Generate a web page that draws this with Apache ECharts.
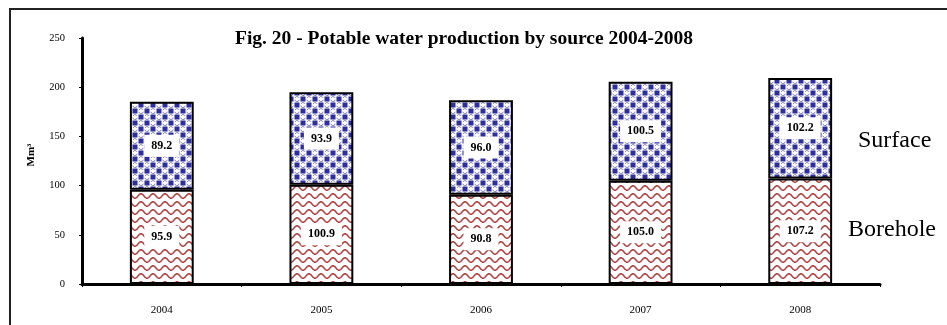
<!DOCTYPE html>
<html>
<head>
<meta charset="utf-8">
<script src="https://cdn.jsdelivr.net/npm/echarts@6/dist/echarts.min.js"></script>
<style>
  html, body { margin: 0; padding: 0; background: #fff; }
  #chart { width: 947px; height: 325px; }
</style>
</head>
<body>
<div id="chart"></div>
<script>
// Potable water production by source, million cubic metres
const years = ['2004', '2005', '2006', '2007', '2008'];
const borehole = [95.9, 100.9, 90.8, 105.0, 107.2];
const surface = [89.2, 93.9, 96.0, 100.5, 102.2];
const yTicks = { min: 0, max: 250, interval: 50 };

// Wavy red hatch for the borehole segments
function wavePattern() {
  const c = document.createElement('canvas');
  c.width = 12; c.height = 8;
  const g = c.getContext('2d');
  g.fillStyle = '#ffffff';
  g.fillRect(0, 0, 12, 8);
  g.strokeStyle = '#b04646';
  g.lineWidth = 1.6;
  g.beginPath();
  for (let x = -1; x <= 13; x += 0.5) {
    const y = 4 + 2.2 * Math.sin((x / 12) * Math.PI * 2);
    if (x === -1) g.moveTo(x, y); else g.lineTo(x, y);
  }
  g.stroke();
  return c;
}

// Blue check-and-ring pattern for the surface segments
function checkPattern() {
  const s = 12, h = s / 2;
  const c = document.createElement('canvas');
  c.width = s; c.height = s;
  const g = c.getContext('2d');
  g.fillStyle = '#ffffff';
  g.fillRect(0, 0, s, s);
  g.fillStyle = '#2f2f9c';
  g.fillRect(0.5, 0.5, 5, 5);
  g.fillRect(h + 0.5, h + 0.5, 5, 5);
  g.strokeStyle = '#7c7cc8';
  g.lineWidth = 1;
  [[h + 3, 3], [3, h + 3]].forEach(([cx, cy]) => {
    g.beginPath(); g.arc(cx, cy + 0.4, 2.2, 0.05 * Math.PI, 0.95 * Math.PI); g.stroke();
    g.beginPath(); g.arc(cx, cy - 0.2, 2.2, 1.15 * Math.PI, 1.85 * Math.PI); g.stroke();
  });
  return c;
}

const serif = '"Liberation Serif", "Times New Roman", serif';

const valueLabel = {
  show: true,
  position: 'inside',
  formatter: p => p.value.toFixed(1),
  fontFamily: serif,
  fontWeight: 'bold',
  fontSize: 12,
  color: '#000',
  backgroundColor: '#fff',
  padding: [5, 7, 5, 7]
};

const chart = echarts.init(document.getElementById('chart'), null, { renderer: 'canvas' });
chart.setOption({
  animation: false,
  backgroundColor: '#fff',
  title: {
    text: 'Fig. 20 - Potable water production by source 2004-2008',
    left: 459,
    top: 24,
    textAlign: 'center',
    textStyle: { fontFamily: serif, fontWeight: 'bold', fontSize: 19.5, color: '#000' }
  },
  grid: { left: 82, right: 67, top: 38, bottom: 41, containLabel: false },
  xAxis: {
    type: 'category',
    data: years,
    axisLine: { lineStyle: { color: '#000', width: 3 } },
    axisTick: { show: true, alignWithLabel: false, length: 3, lineStyle: { color: '#000', width: 1 } },
    axisLabel: { fontFamily: serif, fontSize: 11, color: '#000', margin: 21 }
  },
  yAxis: {
    type: 'value',
    min: yTicks.min,
    max: yTicks.max,
    interval: yTicks.interval,
    axisLine: { show: true, lineStyle: { color: '#000', width: 3 } },
    axisTick: { show: true, length: 3, lineStyle: { color: '#000', width: 1 } },
    axisLabel: { fontFamily: serif, fontSize: 10.5, color: '#000', margin: 17 },
    splitLine: { show: false }
  },
  series: [
    {
      name: 'Borehole',
      type: 'bar',
      stack: 'total',
      barWidth: '40%',
      data: borehole,
      itemStyle: { color: { image: wavePattern(), repeat: 'repeat' }, borderColor: '#000', borderWidth: 2 },
      label: valueLabel
    },
    {
      name: 'Surface',
      type: 'bar',
      stack: 'total',
      barWidth: '40%',
      data: surface,
      itemStyle: { color: { image: checkPattern(), repeat: 'repeat' }, borderColor: '#000', borderWidth: 2 },
      label: valueLabel
    }
  ],
  graphic: [
    {
      type: 'rect',
      shape: { x: 10, y: 9, width: 960, height: 340 },
      style: { fill: 'none', stroke: '#222', lineWidth: 2 },
      silent: true
    },
    {
      type: 'text',
      x: 31, y: 155,
      rotation: Math.PI / 2,
      style: {
        text: 'Mm³',
        font: 'bold 11px ' + serif,
        fill: '#000',
        align: 'center',
        verticalAlign: 'middle'
      }
    },
    {
      type: 'text',
      x: 858, y: 141,
      style: { text: 'Surface', font: '24px ' + serif, fill: '#000', verticalAlign: 'middle' }
    },
    {
      type: 'text',
      x: 848, y: 230,
      style: { text: 'Borehole', font: '24px ' + serif, fill: '#000', verticalAlign: 'middle' }
    }
  ]
});
</script>
</body>
</html>
